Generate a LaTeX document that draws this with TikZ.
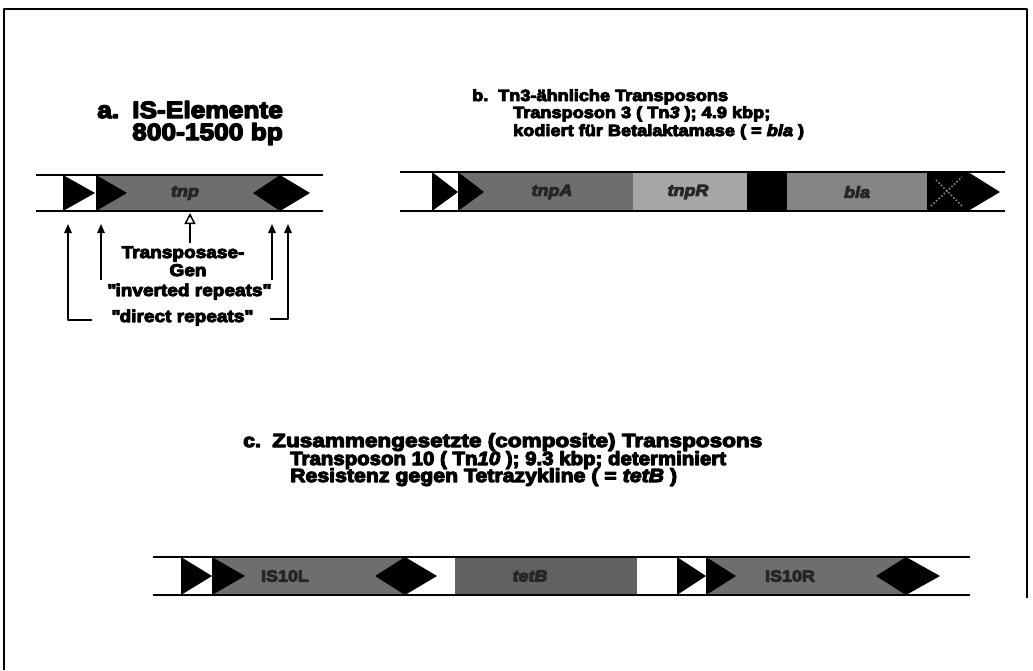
\documentclass[tikz,border=0pt]{standalone}
\usepackage{fontspec}
\setmainfont{Liberation Sans}[
	BoldFeatures={FakeBold=6,FakeStretch=1.12},
	BoldItalicFeatures={FakeBold=6,FakeStretch=1.12}]
\usetikzlibrary{arrows.meta}
\tikzset{
	dnastrand/.style={line width=2pt},
	blackrep/.style={fill=black},
	genebox/.style={fill=black!57},
	palebox/.style={fill=black!35},
	midbox/.style={fill=black!48},
	darkbox/.style={fill=black!62},
	genelab/.style={font=\bfseries\itshape\fontsize{16}{16}\selectfont, text=black!85},
	islab/.style={font=\bfseries\fontsize{16}{16}\selectfont, text=black!85},
	headA/.style={font=\bfseries\fontsize{23.5}{21}\selectfont, anchor=base west, inner sep=0pt},
	headB/.style={font=\bfseries\fontsize{16.2}{16.2}\selectfont, anchor=base west, inner sep=0pt},
	headC/.style={font=\bfseries\fontsize{19}{19}\selectfont, anchor=base west, inner sep=0pt},
	note/.style={font=\bfseries\fontsize{17}{17}\selectfont, anchor=base, inner sep=0pt},
	ptr/.style={line width=1.5pt, -{Triangle[length=9pt,width=7.5pt]}},
	openptr/.style={line width=1.5pt, -{Triangle[open,length=11pt,width=11pt]}}
}
\begin{document}
\begin{tikzpicture}[x=1pt, y=-1pt, line join=round]
	\useasboundingbox (0,0) rectangle (1033,670);
	\draw[line width=2pt] (4,670) -- (4,9) -- (1027,9) -- (1027,598);

	\node[headA] (aNr) at (97,118) {a.};
	\node[headA] (aHead) at (132,118) {IS-Elemente};
	\node[headA] (aSize) at (132,140) {800-1500 bp};

	\fill[genebox] (96,175) rectangle (280,211);
	\fill[blackrep] (63,175) -- (95,193) -- (63,211) -- cycle;
	\fill[blackrep] (96,175) -- (127,193) -- (96,211) -- cycle;
	\fill[blackrep] (253,193) -- (280,175) -- (310,193) -- (280,211) -- cycle;
	\draw[dnastrand] (36,175) -- (323,175) (36,211) -- (323,211);
	\node[genelab] (tnp) at (185,193) {tnp};

	\coordinate (tpFoot) at (190,243);
	\coordinate (tpTip) at (190,213);
	\coordinate (irLfoot) at (101,280);
	\coordinate (irLtip) at (101,224);
	\coordinate (irRfoot) at (272,280);
	\coordinate (irRtip) at (272,224);
	\coordinate (drLfoot) at (92,320);
	\coordinate (drLtip) at (68,224);
	\coordinate (drRfoot) at (270,319);
	\coordinate (drRtip) at (288,224);
	\draw[openptr] (tpFoot) -- (tpTip);
	\draw[ptr] (irLfoot) -- (irLtip);
	\draw[ptr] (irRfoot) -- (irRtip);
	\draw[ptr] (drLfoot) -| (drLtip);
	\draw[ptr] (drRfoot) -| (drRtip);
	\node[note] (tpGen1) at (183,258) {Transposase-};
	\node[note] (tpGen2) at (188,276) {Gen};
	\node[note] (irText) at (189,296) {\textquotedbl inverted repeats\textquotedbl};
	\node[note] (drText) at (182,322) {\textquotedbl direct repeats\textquotedbl};

	\node[headB] (bNr) at (472,101) {b.};
	\node[headB] (bHead) at (498,101) {Tn3-ähnliche Transposons};
	\node[headB] (bName) at (513,118) {Transposon 3 ( Tn\textit{3} ); 4.9 kbp;};
	\node[headB] (bGene) at (513,136) {kodiert für Betalaktamase ( = \textit{bla} )};

	\fill[genebox] (458,172) rectangle (633,211);
	\fill[palebox] (633,172) rectangle (747,211);
	\fill[blackrep] (747,172) rectangle (787,211);
	\fill[midbox] (787,172) rectangle (927,211);
	\fill[blackrep] (927,172) rectangle (968,211);
	\draw[black!45, dotted, line width=1.5pt] (931,206) -- (962,177) (936,180) -- (962,206);
	\fill[blackrep] (432,172) -- (458,192) -- (432,211) -- cycle;
	\fill[blackrep] (458,172) -- (484,192) -- (458,211) -- cycle;
	\fill[blackrep] (968,172) -- (1000,192) -- (968,211) -- cycle;
	\draw[dnastrand] (400,172) -- (1005,172) (400,211) -- (1005,211);
	\node[genelab] (tnpA) at (552,192) {tnpA};
	\node[genelab] (tnpR) at (688,192) {tnpR};
	\node[genelab] (bla) at (857,192) {bla};

	\node[headC] (cNr) at (243,447) {c.};
	\node[headC] (cHead) at (272,447) {\scalebox{1.06}[1]{Zusammengesetzte (composite) Transposons}};
	\node[headC] (cName) at (290,465) {\scalebox{0.96}[1]{Transposon 10 ( Tn\textit{10} ); 9.3 kbp; determiniert}};
	\node[headC] (cGene) at (290,482) {Resistenz gegen Tetrazykline ( = \textit{tetB} )};

	\fill[genebox] (212,557) rectangle (405,595);
	\fill[darkbox] (455,557) rectangle (637,595);
	\fill[genebox] (706,557) rectangle (906,595);
	\fill[blackrep] (181,557) -- (212,576) -- (181,595) -- cycle;
	\fill[blackrep] (212,557) -- (245,576) -- (212,595) -- cycle;
	\fill[blackrep] (375,576) -- (405,557) -- (437,576) -- (405,595) -- cycle;
	\fill[blackrep] (677,557) -- (706,576) -- (677,595) -- cycle;
	\fill[blackrep] (706,557) -- (736,576) -- (706,595) -- cycle;
	\fill[blackrep] (876,576) -- (906,557) -- (940,576) -- (906,595) -- cycle;
	\draw[dnastrand] (153,557) -- (970,557) (153,595) -- (970,595);
	\node[islab] (is10L) at (285,576) {IS10L};
	\node[genelab] (tetB) at (530,576) {tetB};
	\node[islab] (is10R) at (790,576) {IS10R};
\end{tikzpicture}
\end{document}
